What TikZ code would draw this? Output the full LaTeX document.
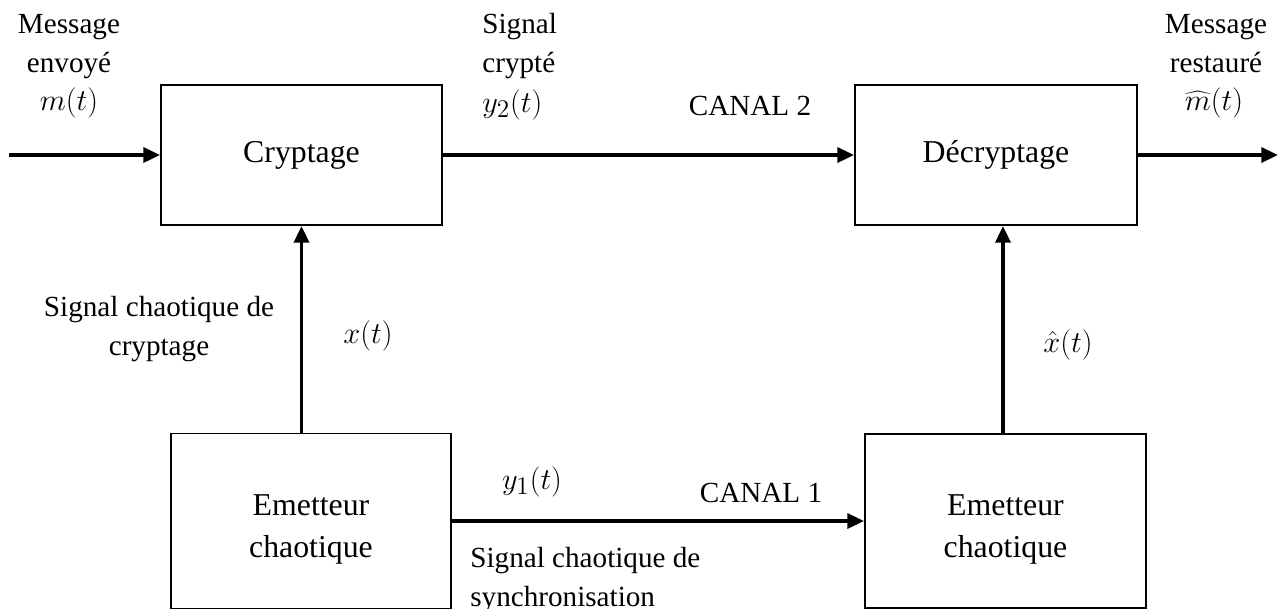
\documentclass[tikz,border=0pt]{standalone}
\usepackage{fontspec}
\setmainfont{Liberation Serif}
\usetikzlibrary{arrows.meta,calc}

\tikzset{
  blk/.style={draw, line width=1.1pt, align=center, inner sep=0pt,
    font=\fontsize{18.1}{23.8}\selectfont},
  arr/.style={line width=2pt, -{Triangle[length=9.5pt,width=8.5pt]}},
  lbl/.style={align=center, inner sep=0pt,
    font=\fontsize{16.6}{21.9}\selectfont},
  lbll/.style={lbl, align=left},
  sym/.style={inner sep=0pt, font=\fontsize{19}{22}\selectfont}
}
% taller first line so that the two-line block text sits a little low
\newcommand{\lowstrut}{\rule{0pt}{21.5pt}}

\begin{document}
\begin{tikzpicture}[x=0.02cm, y=-0.02cm]
  \useasboundingbox (0,0) rectangle (1279,609);

  % processing blocks
  \node[blk, minimum width=5.62cm, minimum height=2.8cm]  (crypt)   at (301.5,155) {Cryptage};
  \node[blk, minimum width=5.64cm, minimum height=2.8cm]  (decrypt) at (996,155)   {Décryptage};
  \node[blk, minimum width=5.6cm,  minimum height=3.5cm]  (em1)     at (311,521)   {\lowstrut Emetteur\\chaotique};
  \node[blk, minimum width=5.62cm, minimum height=3.48cm] (em2)     at (1005.5,521){\lowstrut Emetteur\\chaotique};

  % free ends of the input and output lines
  \coordinate (in)  at (9,155);
  \coordinate (out) at (1278,155);

  % connectors
  \draw[arr] (in) -- (crypt.west);
  \draw[arr] (crypt.east) -- (decrypt.west);
  \draw[arr] (decrypt.east) -- (out);
  \draw[arr] (crypt.south |- em1.north) -- (crypt.south);
  \draw[arr] ($(em2.north)+(-2.5,0)$) -- ($(decrypt.south -| em2.north)+(-2.5,0)$);
  \draw[arr] (em1.east) -- (em2.west);

  % signal labels (multi-line labels are placed by their last baseline)
  \node[lbl, anchor=base]  (lin)   at (69,72)   {Message\\envoyé};
  \node[sym, anchor=base]  (min)   at (69,110)  {$m(t)$};
  \node[lbll, anchor=base west] (lcry) at (482,72) {Signal\\crypté};
  \node[sym, anchor=base west]  (y2)   at (482,112) {$y_2(t)$};
  \node[lbl, anchor=base]  (c2)    at (750,115) {CANAL 2};
  \node[lbl, anchor=base]  (lout)  at (1216,72) {Message\\restauré};
  \node[sym, anchor=base]  (mout)  at (1214,110) {$\widehat{m}(t)$};
  \node[lbl, anchor=base]  (lchx)  at (159,355) {Signal chaotique de\\cryptage};
  \node[sym, anchor=base]  (xt)    at (368,343) {$x(t)$};
  \node[sym, anchor=base]  (xh)    at (1068,352) {$\hat{x}(t)$};
  \node[sym, anchor=base]  (y1)    at (532,489) {$y_1(t)$};
  \node[lbl, anchor=base]  (c1)    at (761,502) {CANAL 1};
  \node[lbll, anchor=base west] (lsync) at (470,606) {Signal chaotique de\\synchronisation};
\end{tikzpicture}
\end{document}
